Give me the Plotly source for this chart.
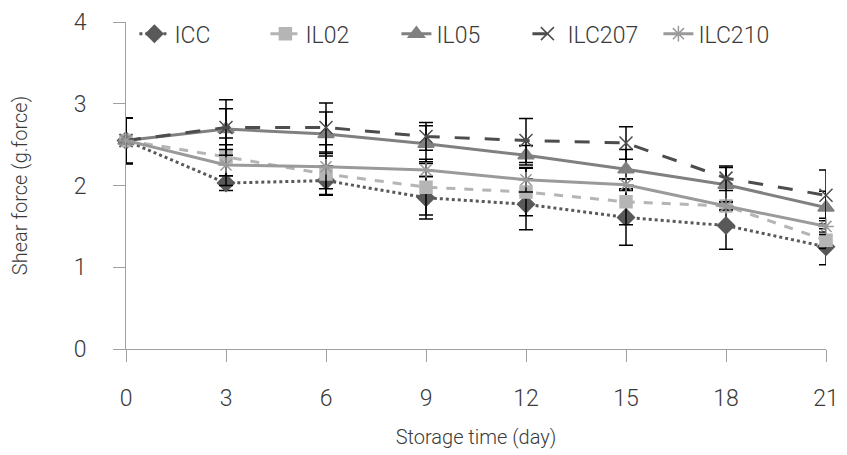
import plotly.graph_objects as go

days = [0, 3, 6, 9, 12, 15, 18, 21]
tick_labels = ["0", "3", "6", "9", "12", "15", "18", "21"]

icc = [2.55, 2.03, 2.06, 1.85, 1.77, 1.61, 1.51, 1.25]
il02 = [2.55, 2.35, 2.14, 1.98, 1.92, 1.80, 1.75, 1.33]
il05 = [2.55, 2.69, 2.63, 2.51, 2.37, 2.20, 2.01, 1.73]
ilc207 = [2.55, 2.71, 2.71, 2.60, 2.55, 2.52, 2.09, 1.88]
ilc210 = [2.55, 2.25, 2.23, 2.19, 2.07, 2.01, 1.75, 1.50]

icc_err = [0.28, 0.09, 0.18, 0.26, 0.31, 0.34, 0.29, 0.22]
il02_err = [0.28, 0.23, 0.25, 0.34, 0.29, 0.28, 0.05, 0.10]
il05_err = [0.28, 0.25, 0.27, 0.22, 0.12, 0.24, 0.21, 0.20]
ilc207_err = [0.28, 0.34, 0.30, 0.17, 0.27, 0.20, 0.15, 0.31]
ilc210_err = [0.28, 0.25, 0.27, 0.08, 0.15, 0.07, 0.05, 0.10]

series = [
    ("ICC", icc, icc_err, "#595959", "dot", "diamond", 13),
    ("IL02", il02, il02_err, "#b5b5b5", "dash", "square", 12),
    ("IL05", il05, il05_err, "#808080", "solid", "triangle-up", 14),
    ("ILC207", ilc207, ilc207_err, "#4d4d4d", "longdash", "x-thin-open", 13),
    ("ILC210", ilc210, ilc210_err, "#9a9a9a", "solid", "asterisk-open", 13),
]

FONT = "Roboto, Liberation Sans, Arial, sans-serif"
TXT = "#3a3a3a"

fig = go.Figure()
for name, ys, errs, color, dash, sym, msize in series:
    fig.add_trace(go.Scatter(
        x=days, y=ys, name=name, mode="lines+markers",
        line=dict(color=color, width=3, dash=dash),
        marker=dict(symbol=sym, size=msize, color=color,
                    line=dict(color=color, width=1.5)),
        error_y=dict(type="data", array=errs, visible=True,
                     color="#000000", thickness=1.5, width=7),
        cliponaxis=False,
    ))

fig.update_layout(
    width=847, height=455,
    margin=dict(l=126, r=21, t=22, b=106),
    paper_bgcolor="white", plot_bgcolor="white",
    font=dict(family=FONT, size=22, color=TXT, weight=300),
    showlegend=True,
    legend=dict(orientation="h", x=0.012, y=1.03, xanchor="left", yanchor="top",
                bgcolor="rgba(0,0,0,0)",
                font=dict(size=23, family=FONT, color=TXT, weight=300),
                entrywidth=86, itemwidth=30, tracegroupgap=0),
    xaxis=dict(range=[0, 21], tickvals=days, ticktext=tick_labels,
               showgrid=False, zeroline=False, automargin=False,
               showline=True, linecolor="#a0a0a0", linewidth=1,
               ticks="outside", ticklen=12, tickcolor="#a0a0a0",
               ticklabelstandoff=16,
               tickfont=dict(size=23, family=FONT, color=TXT, weight=300),
               title=dict(text="Storage time (day)", standoff=19,
                          font=dict(size=20, family=FONT, color=TXT, weight=300))),
    yaxis=dict(range=[0, 4], tickvals=[0, 1, 2, 3, 4],
               showgrid=False, zeroline=False, automargin=False,
               showline=True, linecolor="#a0a0a0", linewidth=1,
               ticks="outside", ticklen=12, tickcolor="#a0a0a0",
               ticklabelstandoff=22,
               tickfont=dict(size=23, family=FONT, color=TXT, weight=300),
               title=dict(text="Shear force (g.force)", standoff=40,
                          font=dict(size=20, family=FONT, color=TXT, weight=300))),
)

fig.write_html("out.html", config={"displayModeBar": False},
               post_script="document.body.style.margin='0';document.body.style.padding='0';")
